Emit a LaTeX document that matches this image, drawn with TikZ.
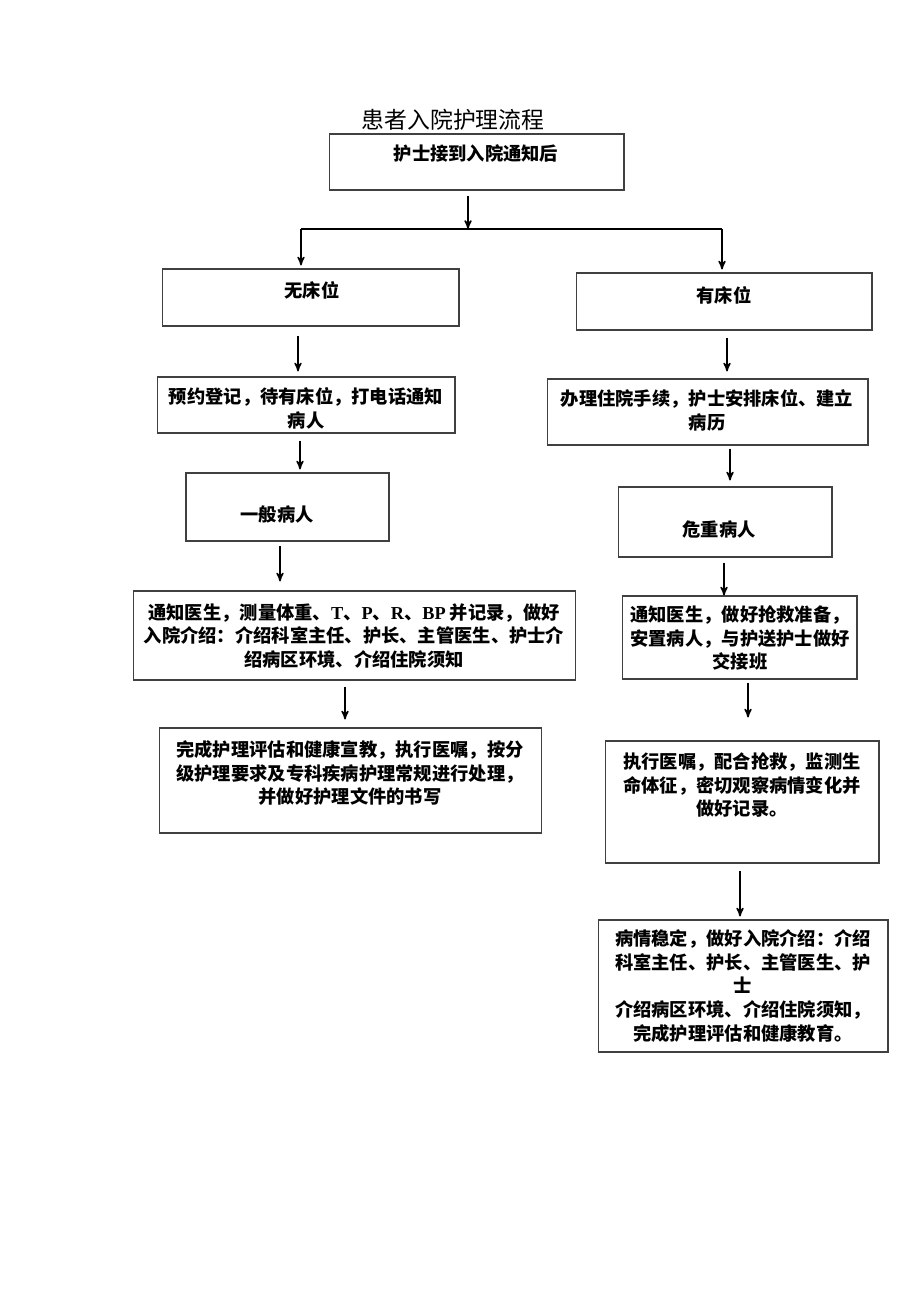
\documentclass[tikz,border=0pt]{standalone}
\usepackage{fontspec}
\newfontfamily\cjk{Noto Sans CJK SC}
\newfontfamily\lat{Liberation Serif}
\usetikzlibrary{arrows}

\tikzset{
  box/.style={draw=black!75,line width=0.6pt,rectangle,inner sep=0pt},
  txt/.style={font=\cjk\bfseries\fontsize{10.4pt}{13.6pt}\selectfont,align=center,inner sep=0pt},
  flow/.style={->,>=stealth',line width=0.8pt},
}

\begin{document}
\begin{tikzpicture}[x=0.02cm,y=-0.02cm]
  \useasboundingbox (0,0) rectangle (920,1301);
  \node[font=\cjk\fontsize{13pt}{15pt}\selectfont] (title) at (453,120) {患者入院护理流程};

  % top
  \node[box,minimum width=5.90cm,minimum height=1.12cm] (notice) at (476.5,162) {};
  \node[txt] (tnotice) at (476,153) {护士接到入院通知后};

  % left column
  \node[box,minimum width=5.94cm,minimum height=1.14cm] (nobed) at (310.5,297.5) {};
  \node[txt] (tnobed) at (312,290) {无床位};
  \node[box,minimum width=5.96cm,minimum height=1.12cm] (book) at (306,405) {};
  \node[txt] (tbook) at (306,408) {预约登记，待有床位，打电话通知\\病人};
  \node[box,minimum width=4.06cm,minimum height=1.36cm] (normal) at (287.5,507) {};
  \node[txt] (tnormal) at (277,514) {一般病人};
  \node[box,minimum width=8.86cm,minimum height=1.78cm] (informl) at (354.5,635.5) {};
  \node[txt] (tinforml) at (354,636) {通知医生，测量体重、{\lat\bfseries T}、{\lat\bfseries P}、{\lat\bfseries R}、{\lat\bfseries BP} 并记录，做好\\入院介绍：介绍科室主任、护长、主管医生、护士介\\绍病区环境、介绍住院须知};
  \node[box,minimum width=7.66cm,minimum height=2.10cm] (assess) at (350.5,780.5) {};
  \node[txt] (tassess) at (350,773) {完成护理评估和健康宣教，执行医嘱，按分\\级护理要求及专科疾病护理常规进行处理，\\并做好护理文件的书写};

  % right column
  \node[box,minimum width=5.92cm,minimum height=1.14cm] (hasbed) at (724,301.5) {};
  \node[txt] (thasbed) at (724,295) {有床位};
  \node[box,minimum width=6.42cm,minimum height=1.32cm] (admit) at (707.5,412) {};
  \node[txt] (tadmit) at (707,410) {办理住院手续，护士安排床位、建立\\病历};
  \node[box,minimum width=4.28cm,minimum height=1.40cm] (severe) at (725,522) {};
  \node[txt] (tsevere) at (719,529) {危重病人};
  \node[box,minimum width=4.70cm,minimum height=1.66cm] (informr) at (739.5,637.5) {};
  \node[txt] (tinformr) at (740,638) {通知医生，做好抢救准备，\\安置病人，与护送护士做好\\交接班};
  \node[box,minimum width=5.48cm,minimum height=2.44cm] (rescue) at (742,802) {};
  \node[txt] (trescue) at (742,785) {执行医嘱，配合抢救，监测生\\命体征，密切观察病情变化并\\做好记录。};
  \node[box,minimum width=5.80cm,minimum height=2.64cm] (stable) at (743,986) {};
  \node[txt] (tstable) at (743,986) {病情稳定，做好入院介绍：介绍\\科室主任、护长、主管医生、护\\士\\介绍病区环境、介绍住院须知，\\完成护理评估和健康教育。};

  % split
  \coordinate (split) at (468,229);
  \coordinate (lft) at (301,229);
  \coordinate (rgt) at (722,229);
  \draw[flow,shorten <=0.10cm] (notice.south -| split) -- (split);
  \draw[line width=0.8pt] (lft) -- (rgt);
  \draw[flow,shorten >=0.06cm] (lft) -- (nobed.north -| lft);
  \draw[flow,shorten >=0.06cm] (rgt) -- (hasbed.north -| rgt);

  \draw[flow,shorten <=0.18cm,shorten >=0.10cm] (nobed.south -| 298,0) -- (book.north -| 298,0);
  \draw[flow,shorten <=0.14cm,shorten >=0.06cm] (book.south -| 300,0) -- (normal.north -| 300,0);
  \draw[flow,shorten <=0.08cm,shorten >=0.18cm] (normal.south -| 280,0) -- (informl.north -| 280,0);
  \draw[flow,shorten <=0.12cm,shorten >=0.16cm] (informl.south -| 345,0) -- (assess.north -| 345,0);

  \draw[flow,shorten <=0.14cm,shorten >=0.14cm] (hasbed.south -| 727,0) -- (admit.north -| 727,0);
  \draw[flow,shorten <=0.06cm,shorten >=0.12cm] (admit.south -| 730,0) -- (severe.north -| 730,0);
  \draw[flow,shorten <=0.10cm] (severe.south -| 724,0) -- (informr.north -| 724,0);
  \draw[flow,shorten <=0.06cm,shorten >=0.46cm] (informr.south -| 748,0) -- (rescue.north -| 748,0);
  \draw[flow,shorten <=0.14cm,shorten >=0.06cm] (rescue.south -| 740,0) -- (stable.north -| 740,0);
\end{tikzpicture}
\end{document}
